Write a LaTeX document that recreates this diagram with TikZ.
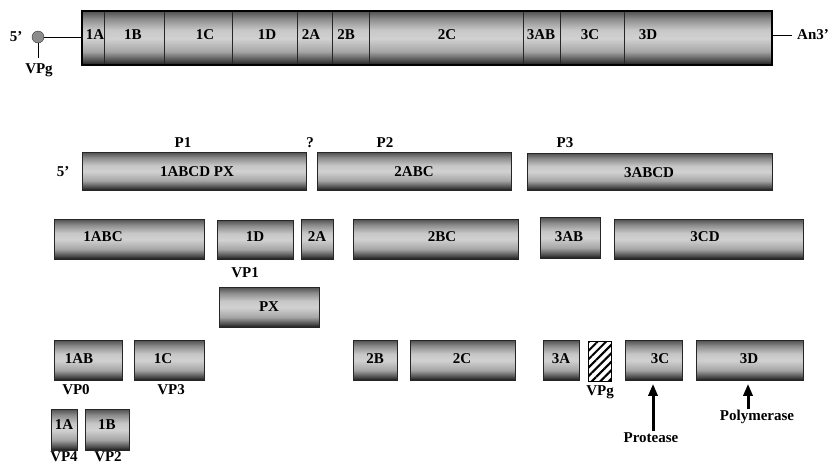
\documentclass[tikz,border=0pt]{standalone}
\usepackage{fontspec}
\setmainfont{Liberation Serif}
\usetikzlibrary{arrows.meta,patterns.meta}
\pgfdeclareverticalshading{cyl}{100bp}{color(0bp)=(black!92); color(25bp)=(black!92); color(29bp)=(black!72); color(38bp)=(black!35); color(50bp)=(black!18); color(58bp)=(black!22); color(68bp)=(black!45); color(75bp)=(black!68); color(100bp)=(black!68)}
\tikzset{
  seg/.style={draw=black!85, line width=0.8pt, shading=cyl, inner sep=0pt, anchor=north west},
  lbl/.style={font=\fontsize{15}{16}\selectfont\bfseries, inner sep=0pt},
  arr/.style={line width=3pt, shorten >=3pt, -{Triangle[length=12pt,width=9pt]}},
}
\newcommand{\bx}[5]{\node[seg, minimum width=#4pt-#2pt, minimum height=#5pt-#3pt] (#1) at (#2,#3) {};}
\begin{document}
\begin{tikzpicture}[x=1pt,y=-1pt]
\useasboundingbox (0,0) rectangle (834,464);
% genome
\bx{g1a}{82}{11}{104}{65}
\bx{g1b}{104}{11}{164}{65}
\bx{g1c}{164}{11}{232}{65}
\bx{g1d}{232}{11}{297}{65}
\bx{g2a}{297}{11}{332}{65}
\bx{g2b}{332}{11}{369}{65}
\bx{g2c}{369}{11}{523}{65}
\bx{g3ab}{523}{11}{560}{65}
\bx{g3c}{560}{11}{624}{65}
\bx{g3d}{624}{11}{772}{65}
\draw[line width=1.1pt] (82,11) rectangle (772,65);
\node[lbl] at (95,35) {1A};
\node[lbl] at (133,35) {1B};
\node[lbl] at (205,35) {1C};
\node[lbl] at (267,35) {1D};
\node[lbl] at (311,35) {2A};
\node[lbl] at (346,35) {2B};
\node[lbl] at (447,35) {2C};
\node[lbl] at (541,35) {3AB};
\node[lbl] at (590,35) {3C};
\node[lbl] at (648,35) {3D};
\node[lbl] (five1) at (16,37) {5'};
\node[circle, draw=black!80, fill=black!45, minimum size=12pt, inner sep=0pt] (vc) at (38,37) {};
\draw[line width=0.8pt] (vc) -- (g1a.west |- vc);
\coordinate (vst) at (38,58);
\draw[line width=1pt] (vc) -- (vst);
\node[lbl] (vpgt) at (39,70) {VPg};
\coordinate (tl) at (792,35);
\draw[line width=0.8pt] (g3d.east |- tl) -- (tl);
\node[lbl] (an) at (813,35) {An3'};
% polyproteins
\bx{p1}{82}{152}{306}{190}
\bx{p2}{317}{152}{511}{190}
\bx{p3}{527}{153}{772}{190}
\node[lbl] at (197,172) {1ABCD PX};
\node[lbl] at (414,172) {2ABC};
\node[lbl] at (649,173) {3ABCD};
\node[lbl] at (183,143) {P1};
\node[lbl] at (310,143) {?};
\node[lbl] at (385,143) {P2};
\node[lbl] at (565,143) {P3};
\node[lbl] at (63,172) {5'};
% row 3
\bx{r1abc}{54}{219}{204}{259}
\bx{r1d}{217}{220}{293}{259}
\bx{r2a}{301}{219}{333}{259}
\bx{r2bc}{353}{219}{518}{259}
\bx{r3ab}{540}{217}{600}{258}
\bx{r3cd}{614}{219}{803}{259}
\node[lbl] at (103,237) {1ABC};
\node[lbl] at (255,237) {1D};
\node[lbl] at (317,237) {2A};
\node[lbl] at (442,237) {2BC};
\node[lbl] at (569,237) {3AB};
\node[lbl] at (705,237) {3CD};
\node[lbl] at (245,273) {VP1};
\bx{px}{219}{287}{319}{327}
\node[lbl] at (269,307) {PX};
% row 4
\bx{r1ab}{54}{340}{122}{380}
\bx{r1c}{134}{340}{204}{380}
\bx{r2b}{353}{340}{397}{380}
\bx{r2c}{410}{340}{515}{380}
\bx{r3a}{543}{340}{579}{380}
\node[draw=black, line width=0.9pt, inner sep=0pt, anchor=north west, minimum width=23pt, minimum height=40pt, pattern={Lines[angle=45,distance=6pt,line width=2pt]}] (rvpg) at (587,340) {};
\bx{r3c}{625}{340}{682}{380}
\bx{r3d}{696}{340}{803}{380}
\node[lbl] at (79,359) {1AB};
\node[lbl] at (163,359) {1C};
\node[lbl] at (375,359) {2B};
\node[lbl] at (462,359) {2C};
\node[lbl] at (561,359) {3A};
\node[lbl] at (660,359) {3C};
\node[lbl] at (749,359) {3D};
\node[lbl] at (76,390) {VP0};
\node[lbl] at (171,390) {VP3};
\node[lbl] at (600,392) {VPg};
\coordinate (pr) at (653,431);
\draw[arr] (pr) -- (pr |- r3c.south);
\node[lbl] at (651,438) {Protease};
\coordinate (po) at (748,409);
\draw[arr] (po) -- (po |- r3d.south);
\node[lbl] at (757,417) {Polymerase};
% row 5
\bx{r1a}{51}{409}{77}{450}
\bx{r1b}{85}{409}{129}{450}
\node[lbl] at (64,425) {1A};
\node[lbl] at (107,425) {1B};
\node[lbl] at (64,457) {VP4};
\node[lbl] at (108,457) {VP2};
\end{tikzpicture}
\end{document}
